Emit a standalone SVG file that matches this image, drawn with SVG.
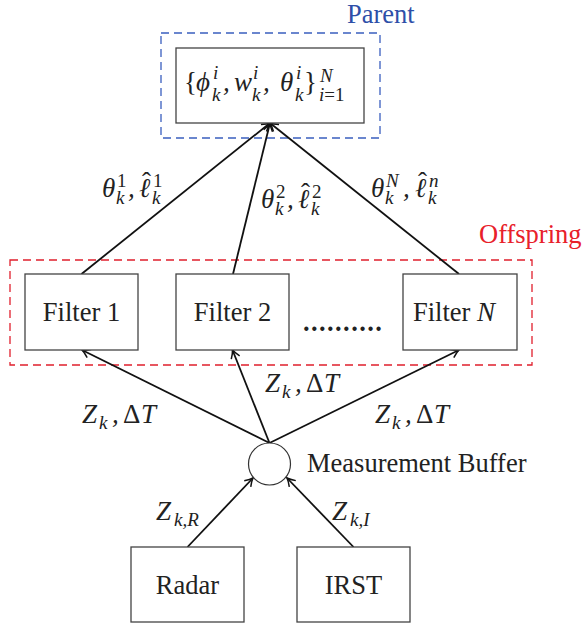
<svg xmlns="http://www.w3.org/2000/svg" width="582" height="629" viewBox="0 0 582 629">
<defs>
<style>
.box{fill:#fff;stroke:#444;stroke-width:1.3}
.t{font-family:"Liberation Serif","Times New Roman",serif;font-size:26.5px;fill:#222}
.m{font-family:"Liberation Serif","Times New Roman",serif;font-size:27px;fill:#222;font-style:italic}
.u{font-style:normal}
.s{font-size:19px}
.c{stroke:#111;stroke-width:1.8;fill:none;marker-end:url(#arr)}
</style>
<marker id="arr" markerUnits="userSpaceOnUse" viewBox="-10 -6 12 12" markerWidth="12" markerHeight="12" refX="0" refY="0" orient="auto">
<path d="M-8,-4.5 Q-3,-1 0,0 Q-3,1 -8,4.5" fill="none" stroke="#111" stroke-width="1.5"/>
</marker>
</defs>
<rect width="582" height="629" fill="#fff"/>

<g id="parent-group">
<rect x="161" y="33" width="219" height="105" fill="none" stroke="#3a5fbf" stroke-width="1.3" stroke-dasharray="8,5"/>
<text x="347" y="23" class="t" style="fill:#2e4fa8">Parent</text>
</g>
<g id="offspring-group">
<rect x="10" y="260" width="522" height="105" fill="none" stroke="#e01f2d" stroke-width="1.3" stroke-dasharray="8,5"/>
<text x="479" y="243" class="t" style="fill:#e8202a">Offspring</text>
</g>

<g id="connectors">
<line class="c" x1="81.5" y1="274" x2="270" y2="123"/>
<line class="c" x1="233" y1="274" x2="270" y2="123"/>
<line class="c" x1="459" y1="274" x2="270" y2="123"/>
<line class="c" x1="269.5" y1="443" x2="82" y2="350"/>
<line class="c" x1="269.5" y1="443" x2="232.5" y2="350"/>
<line class="c" x1="269.5" y1="443" x2="459" y2="350"/>
<line class="c" x1="187.5" y1="547" x2="253" y2="478"/>
<line class="c" x1="353.5" y1="547" x2="287" y2="478"/>
</g>

<g id="parent">
<rect class="box" x="176" y="48" width="188" height="75"/>
<text class="m"><tspan class="u" x="184" y="91">{</tspan><tspan x="196" y="91">ϕ</tspan><tspan class="s" x="213" y="79">i</tspan><tspan class="s" x="212" y="101">k</tspan><tspan x="223" y="91">,</tspan><tspan x="234" y="91">w</tspan><tspan class="s" x="253" y="79">i</tspan><tspan class="s" x="252" y="101">k</tspan><tspan x="263" y="91">,</tspan><tspan x="280" y="91">θ</tspan><tspan class="s" x="296" y="79">i</tspan><tspan class="s" x="295" y="101">k</tspan><tspan class="u" x="304" y="91">}</tspan><tspan class="s" x="320" y="82">N</tspan><tspan class="s" x="319" y="101">i<tspan class="u">=1</tspan></tspan></text>
</g>

<g id="filter1">
<rect class="box" x="25" y="274" width="113" height="76"/>
<text class="t" x="81.5" y="321" text-anchor="middle">Filter 1</text>
</g>
<g id="filter2">
<rect class="box" x="176" y="274" width="113" height="76"/>
<text class="t" x="232.5" y="321" text-anchor="middle">Filter 2</text>
</g>
<g id="dots">
<text class="t" x="303" y="331" style="letter-spacing:1.4px;font-weight:bold">..........</text>
</g>
<g id="filterN">
<rect class="box" x="403" y="274" width="114" height="76"/>
<text class="t" x="413" y="321">Filter <tspan class="m">N</tspan></text>
</g>

<g id="buffer">
<circle cx="269.5" cy="464" r="21" fill="#fff" stroke="#333" stroke-width="1.2"/>
<text class="t" x="307" y="472">Measurement Buffer</text>
</g>

<g id="radar">
<rect class="box" x="131" y="547" width="113" height="75"/>
<text class="t" x="187.5" y="594" text-anchor="middle">Radar</text>
</g>
<g id="irst">
<rect class="box" x="297" y="547" width="113" height="75"/>
<text class="t" x="353.5" y="594" text-anchor="middle">IRST</text>
</g>

<g id="labels">
<text class="m"><tspan x="102" y="197">θ</tspan><tspan class="s u" x="117" y="187">1</tspan><tspan class="s" x="116" y="204">k</tspan><tspan x="128" y="197">,</tspan><tspan x="139" y="197">ℓ</tspan><tspan class="u" x="142" y="191">ˆ</tspan><tspan class="s u" x="153" y="187">1</tspan><tspan class="s" x="152" y="204">k</tspan></text>
<text class="m"><tspan x="261" y="208">θ</tspan><tspan class="s u" x="276" y="198">2</tspan><tspan class="s" x="275" y="215">k</tspan><tspan x="287" y="208">,</tspan><tspan x="298" y="208">ℓ</tspan><tspan class="u" x="301" y="202">ˆ</tspan><tspan class="s u" x="312" y="198">2</tspan><tspan class="s" x="311" y="215">k</tspan></text>
<text class="m"><tspan x="371" y="197">θ</tspan><tspan class="s" x="386" y="187">N</tspan><tspan class="s" x="385" y="204">k</tspan><tspan x="403" y="197">,</tspan><tspan x="415" y="197">ℓ</tspan><tspan class="u" x="418" y="191">ˆ</tspan><tspan class="s" x="429" y="187">n</tspan><tspan class="s" x="428" y="204">k</tspan></text>

<text class="m"><tspan x="82" y="423">Z</tspan><tspan class="s" x="99" y="429">k</tspan><tspan x="112" y="423">,</tspan><tspan class="u" x="123" y="423">Δ</tspan><tspan x="141" y="423">T</tspan></text>
<text class="m"><tspan x="265" y="392">Z</tspan><tspan class="s" x="282" y="398">k</tspan><tspan x="295" y="392">,</tspan><tspan class="u" x="306" y="392">Δ</tspan><tspan x="324" y="392">T</tspan></text>
<text class="m"><tspan x="375" y="423">Z</tspan><tspan class="s" x="392" y="429">k</tspan><tspan x="405" y="423">,</tspan><tspan class="u" x="416" y="423">Δ</tspan><tspan x="434" y="423">T</tspan></text>

<text class="m"><tspan x="156" y="520">Z</tspan><tspan class="s" x="174" y="526">k,R</tspan></text>
<text class="m"><tspan x="332" y="520">Z</tspan><tspan class="s" x="350" y="526">k,I</tspan></text>
</g>
</svg>
